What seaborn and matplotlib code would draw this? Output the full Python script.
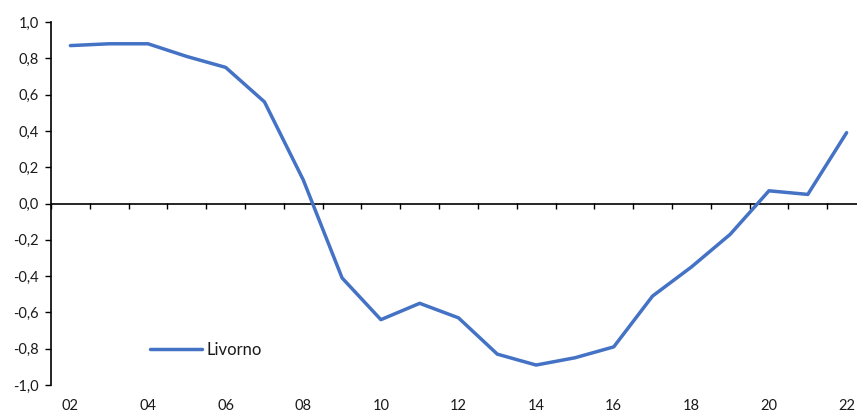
import matplotlib
matplotlib.use("Agg")
import matplotlib.pyplot as plt
from matplotlib.ticker import FuncFormatter
import numpy as np
import pandas as pd
import seaborn as sns

years = ["02", "03", "04", "05", "06", "07", "08", "09", "10", "11", "12",
         "13", "14", "15", "16", "17", "18", "19", "20", "21", "22"]
livorno = [0.87, 0.88, 0.88, 0.81, 0.75, 0.56, 0.13, -0.41, -0.64, -0.55, -0.63,
           -0.83, -0.89, -0.85, -0.79, -0.51, -0.35, -0.17, 0.07, 0.05, 0.39]
y_ticks = [-1.0, -0.8, -0.6, -0.4, -0.2, 0.0, 0.2, 0.4, 0.6, 0.8, 1.0]

sns.set_style("white")
plt.rcParams["font.family"] = ["Lato", "DejaVu Sans"]

df = pd.DataFrame({"pos": np.arange(len(years)), "value": livorno})

fig = plt.figure(figsize=(8.57, 4.12), dpi=100)
ax = fig.add_axes([51 / 857, 27 / 412, 815 / 857, 363 / 412])

blue = "#4472C4"
sns.lineplot(data=df, x="pos", y="value", ax=ax, color=blue, linewidth=2.5,
             label="Livorno", zorder=3)

ax.set_xlim(-0.5, len(years) - 0.5)
ax.set_ylim(-1.0, 1.0)
ax.set_xlabel("")
ax.set_ylabel("")

text_color = "#1a1a1a"
# y axis: left spine with outward ticks, comma decimals
ax.set_yticks(y_ticks)
ax.yaxis.set_major_formatter(FuncFormatter(lambda v, _: f"{v:.1f}".replace(".", ",")))
ax.tick_params(axis="y", direction="out", length=4, width=1, color="black",
               pad=5, labelsize=10.5, labelcolor=text_color, left=True)

# x labels on every other category along the bottom edge
ax.set_xticks(np.arange(0, len(years), 2))
ax.set_xticklabels(years[::2])
ax.tick_params(axis="x", length=0, pad=10, labelsize=10.5, labelcolor=text_color)

for side in ["top", "right", "bottom"]:
    ax.spines[side].set_visible(False)
ax.spines["left"].set_color("black")
ax.spines["left"].set_linewidth(1.2)

# category axis crossing at zero, ticks between categories
ax.axhline(0, color="black", linewidth=1.2, zorder=2)
zero_axis = ax.secondary_xaxis(0.5)
zero_axis.set_xticks(np.arange(-0.5, len(years) + 0.5, 1))
zero_axis.set_xticklabels([])
zero_axis.tick_params(direction="in", length=4, width=1, color="black")
for sp in zero_axis.spines.values():
    sp.set_visible(False)

leg = ax.legend(loc="center left", bbox_to_anchor=(150 / 857, 1 - 350 / 412),
                bbox_transform=fig.transFigure, frameon=False, fontsize=12,
                handlelength=3.1, handletextpad=0.3, borderpad=0, borderaxespad=0)
for t in leg.get_texts():
    t.set_color(text_color)

fig.savefig("out.png", dpi=100)
